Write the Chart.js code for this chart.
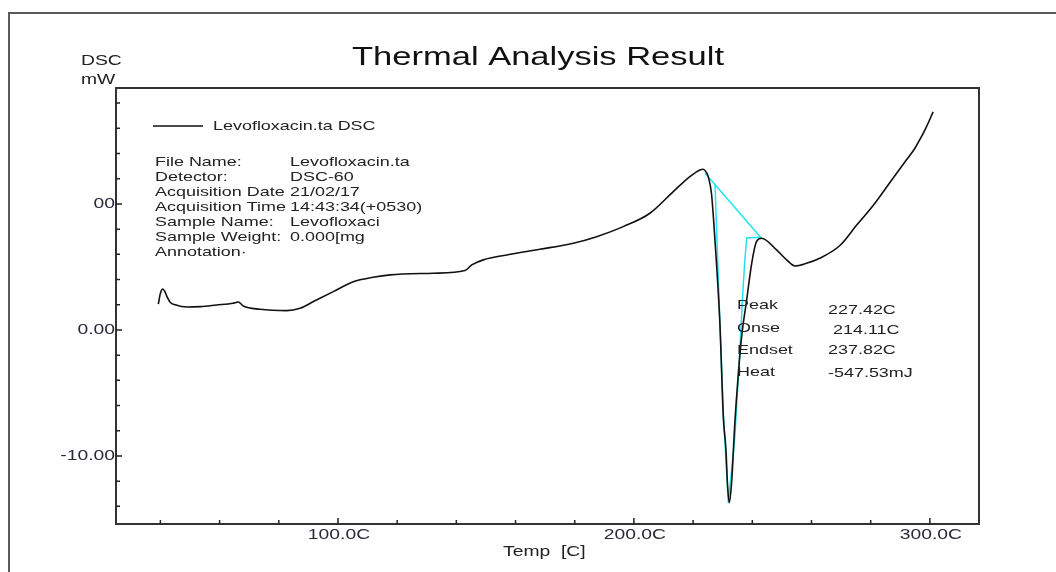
<!DOCTYPE html>
<html>
<head>
<meta charset="utf-8">
<script src="https://cdn.jsdelivr.net/npm/chart.js@4.4.1/dist/chart.umd.min.js"></script>
<style>
html,body{margin:0;padding:0;background:#fff;}
#wrap{width:1056px;height:572px;}
</style>
</head>
<body>
<div id="wrap"><canvas id="c" width="1056" height="572"></canvas></div>
<script>
// ---- data ----
const temps = [39.3, 40.0, 40.8, 41.5, 42.3, 43.3, 45.0, 49.0, 53.5, 59.0, 64.5, 66.3, 68.0, 73.6, 82.7, 87.2, 91.7, 98.4, 105.2, 111.9, 117.6, 132.2, 142.9, 145.2, 149.1, 157.0, 168.2, 179.5, 187.4, 196.4, 205.4, 213.3, 218.9, 222.3, 223.4, 224.5, 225.1, 226.2, 226.9, 227.9, 229.1, 230.2, 231.1, 231.6, 232.2, 233.0, 234.1, 235.2, 236.4, 238.1, 239.8, 241.4, 243.1, 248.2, 251.6, 254.4, 258.3, 262.8, 269.6, 275.2, 280.9, 286.5, 292.1, 294.9, 296.6, 298.6, 301.1];
const dsc   = [2.05, 2.9, 3.25, 3.05, 2.6, 2.2, 2.0, 1.82, 1.85, 1.98, 2.12, 2.22, 1.9, 1.64, 1.53, 1.72, 2.25, 3.04, 3.83, 4.18, 4.37, 4.50, 4.71, 5.16, 5.56, 5.95, 6.40, 6.88, 7.40, 8.20, 9.26, 10.98, 12.17, 12.70, 12.75, 12.5, 12.17, 10.85, 8.8, 5.3, 0.26, -6.88, -9.52, -12.17, -13.7, -12.14, -7.38, -3.71, -0.53, 2.38, 5.29, 7.01, 7.28, 6.35, 5.56, 5.08, 5.29, 5.69, 6.7, 8.3, 9.9, 11.7, 13.5, 14.4, 15.1, 16.0, 17.3];

const baseTemps = [224.0, 243.1];
const baseVals  = [12.45, 7.28];
const integTemps = [227.4, 229.1, 230.2, 231.9, 234.1, 235.8, 236.9, 237.5, 238.1, 242.6];
const integVals  = [11.52, 0.26, -6.59, -13.73, -8.49, -1.59, 3.41, 5.56, 7.30, 7.36];

const xMajorTicks = [100, 200, 300];
const xTickLabels = ['100.0C', '200.0C', '300.0C'];
const xMinorTicks = [40, 60, 80, 120, 140, 160, 180, 220, 240, 260, 280];
const yMajorTicks = [-10, 0, 10];
const yTickLabels = ['-10.00', '0.00', '00'];
const yMinorTicks = [-14, -12, -8, -6, -4, -2, 2, 4, 6, 8, 12, 14, 16, 18];

const titleText = 'Thermal Analysis Result';
const legendText = 'Levofloxacin.ta DSC';
const infoLabels = ['File Name:', 'Detector:', 'Acquisition Date', 'Acquisition Time', 'Sample Name:', 'Sample Weight:', 'Annotation\u00b7'];
const infoValues = ['Levofloxacin.ta', 'DSC-60', '21/02/17', '14:43:34(+0530)', 'Levofloxaci', '0.000[mg', ''];
const resLabels = ['Peak', 'Onse', 'Endset', 'Heat'];
const resValues = ['227.42C', ' 214.11C', '237.82C', '-547.53mJ'];

const pts = (xs, ys) => xs.map((x, i) => ({x: x, y: ys[i]}));

const SX = 1.38;
const FONT = '"Liberation Sans", Arial, sans-serif';
function txt(ctx, s, x, y, size, align, color) {
  ctx.save();
  ctx.font = size + 'px ' + FONT;
  ctx.fillStyle = color || '#1a1a1a';
  ctx.textBaseline = 'middle';
  ctx.textAlign = 'left';
  const w = ctx.measureText(s).width * SX;
  let x0 = x;
  if (align === 'center') x0 = x - w / 2;
  else if (align === 'right') x0 = x - w;
  ctx.translate(x0, y);
  ctx.scale(SX, 1);
  ctx.fillText(s, 0, 0);
  ctx.restore();
}

const decor = {
  id: 'decor',
  beforeDatasetsDraw(chart) {
    const ctx = chart.ctx, a = chart.chartArea;
    const xs = chart.scales.x, ys = chart.scales.y;
    ctx.save();
    // outer frame
    ctx.strokeStyle = '#5a5a5a';
    ctx.lineWidth = 2;
    ctx.beginPath();
    ctx.moveTo(9, 572); ctx.lineTo(9, 13); ctx.lineTo(1056, 13);
    ctx.stroke();
    // plot box
    ctx.strokeStyle = '#333';
    ctx.lineWidth = 2;
    ctx.strokeRect(a.left, a.top, a.right - a.left, a.bottom - a.top);
    // ticks
    ctx.lineWidth = 1.5;
    ctx.strokeStyle = '#222';
    ctx.beginPath();
    xMajorTicks.forEach(v => { const p = xs.getPixelForValue(v); ctx.moveTo(p, a.bottom); ctx.lineTo(p, a.bottom - 6); });
    xMinorTicks.forEach(v => { const p = xs.getPixelForValue(v); ctx.moveTo(p, a.bottom); ctx.lineTo(p, a.bottom - 4); });
    yMajorTicks.forEach(v => { const p = ys.getPixelForValue(v); ctx.moveTo(a.left, p); ctx.lineTo(a.left + 6, p); });
    yMinorTicks.forEach(v => { const p = ys.getPixelForValue(v); ctx.moveTo(a.left, p); ctx.lineTo(a.left + 4, p); });
    ctx.stroke();
    ctx.restore();
  },
  afterDatasetsDraw(chart) {
    const ctx = chart.ctx, a = chart.chartArea;
    const xs = chart.scales.x, ys = chart.scales.y;
    // tick labels
    xMajorTicks.forEach((v, i) => txt(ctx, xTickLabels[i], xs.getPixelForValue(v) + 1, 535, 14, 'center', '#2a2a3a'));
    yMajorTicks.forEach((v, i) => txt(ctx, yTickLabels[i], a.left - 1, ys.getPixelForValue(v), 14, 'right', '#2a2a3a'));
    // title & axis titles
    txt(ctx, titleText, 538, 58, 25, 'center', '#111');
    txt(ctx, 'DSC', 81, 61, 14, 'left', '#222');
    txt(ctx, 'mW', 81, 80, 14, 'left', '#222');
    txt(ctx, 'Temp  [C]', 503, 552, 14, 'left', '#222');
    // legend
    ctx.save();
    ctx.strokeStyle = '#111'; ctx.lineWidth = 1.5;
    ctx.beginPath(); ctx.moveTo(153, 126); ctx.lineTo(203, 126); ctx.stroke();
    ctx.restore();
    txt(ctx, legendText, 213, 126, 13, 'left', '#222');
    // info block
    infoLabels.forEach((s, i) => txt(ctx, s, 155, 162 + 15 * i, 13, 'left', '#222'));
    infoValues.forEach((s, i) => { if (s) txt(ctx, s, 290, 162 + 15 * i, 13, 'left', '#222'); });
    // peak results
    const ly = [305, 328, 350, 372];
    const vy = [310, 330, 350, 373];
    resLabels.forEach((s, i) => txt(ctx, s, 737, ly[i], 13, 'left', '#222'));
    resValues.forEach((s, i) => txt(ctx, s, 828, vy[i], 13, 'left', '#222'));
  }
};

new Chart(document.getElementById('c'), {
  type: 'line',
  data: {
    datasets: [
      { label: 'Levofloxacin.ta DSC', data: pts(temps, dsc), borderColor: '#111', borderWidth: 1.6, pointRadius: 0, cubicInterpolationMode: 'monotone', fill: false },
      { label: 'baseline', data: pts(baseTemps, baseVals), borderColor: '#1fe3f0', borderWidth: 1.5, pointRadius: 0, tension: 0, fill: false },
      { label: 'integration', data: pts(integTemps, integVals), borderColor: '#1fe3f0', borderWidth: 1.5, pointRadius: 0, tension: 0, fill: false }
    ]
  },
  options: {
    responsive: false,
    animation: false,
    layout: { padding: { left: 116, top: 88, right: 77, bottom: 48 } },
    plugins: { legend: { display: false }, title: { display: false }, tooltip: { enabled: false } },
    scales: {
      x: { type: 'linear', min: 25, max: 316.6, display: false },
      y: { type: 'linear', min: -15.4, max: 19.2, display: false }
    }
  },
  plugins: [decor]
});
</script>
</body>
</html>
